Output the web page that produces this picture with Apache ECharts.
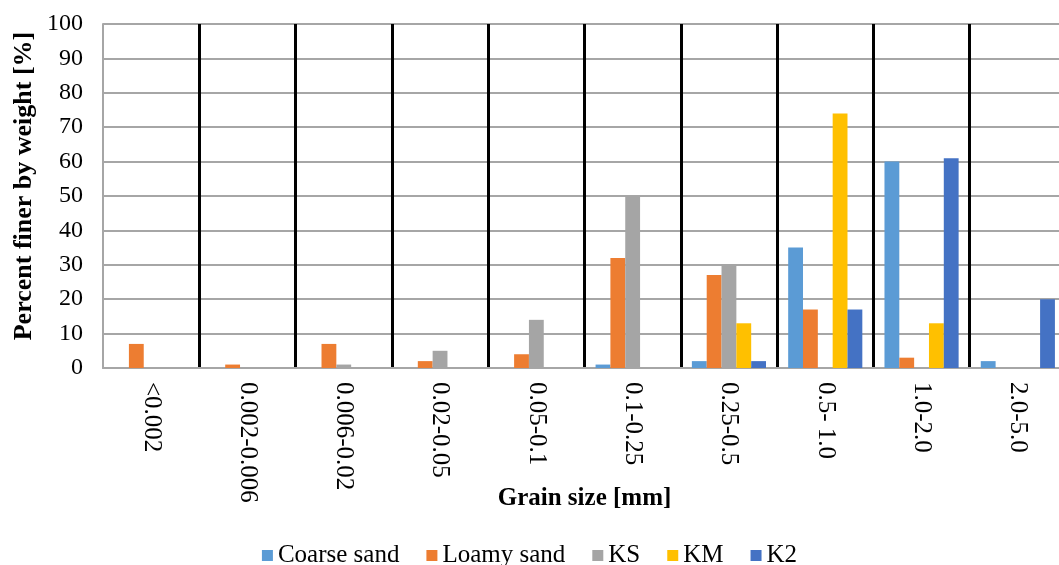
<!DOCTYPE html>
<html>
<head>
<meta charset="utf-8">
<script src="https://cdn.jsdelivr.net/npm/echarts@6/dist/echarts.min.js"></script>
<style>
html, body { margin: 0; padding: 0; background: #fff; }
#main { width: 1059px; height: 565px; }
</style>
</head>
<body>
<div id="main"></div>
<script>
var categories = ['<0.002', '0.002-0.006', '0.006-0.02', '0.02-0.05', '0.05-0.1',
    '0.1-0.25', '0.25-0.5', '0.5- 1.0', '1.0-2.0', '2.0-5.0'];
var coarseSand = [0, 0, 0, 0, 0, 1, 2, 35, 60, 2];
var loamySand = [7, 1, 7, 2, 4, 32, 27, 17, 3, 0];
var ks = [0, 0, 1, 5, 14, 50, 30, 0, 0, 0];
var km = [0, 0, 0, 0, 0, 0, 13, 74, 13, 0];
var k2 = [0, 0, 0, 0, 0, 0, 2, 17, 61, 20];

var myChart = echarts.init(document.getElementById('main'));
var font = 'Liberation Serif';

function bar(name, data, color) {
    return {
        name: name,
        type: 'bar',
        data: data,
        barGap: '0%',
        barCategoryGap: '23%',
        itemStyle: { color: color }
    };
}

var option = {
    animation: false,
    textStyle: { fontFamily: font },
    grid: { left: 103, top: 24, width: 963, bottom: 197, outerBoundsMode: 'none' },
    legend: {
        top: 538,
        left: 'center',
        icon: 'rect',
        itemWidth: 11,
        itemHeight: 11,
        itemGap: 27,
        textStyle: { fontFamily: font, fontSize: 25, color: '#000' }
    },
    xAxis: {
        type: 'category',
        data: categories,
        name: 'Grain size [mm]',
        nameLocation: 'middle',
        nameGap: 118,
        nameMoveOverlap: false,
        nameTextStyle: { fontFamily: font, fontSize: 25, fontWeight: 'bold', color: '#000' },
        axisLine: { lineStyle: { color: '#a6a6a6', width: 2 } },
        axisTick: { show: false },
        axisLabel: { rotate: -90, fontSize: 25, color: '#000', margin: 14, fontFamily: font },
        splitLine: {
            show: true,
            interval: function (index) { return index !== 0; },
            lineStyle: { color: '#000', width: 3 }
        }
    },
    yAxis: {
        type: 'value',
        min: 0,
        max: 100,
        interval: 10,
        name: 'Percent finer by weight [%]',
        nameLocation: 'middle',
        nameGap: 66,
        nameMoveOverlap: false,
        nameTextStyle: { fontFamily: font, fontSize: 26, fontWeight: 'bold', color: '#000', padding: [0, 0, 0, 20] },
        axisLine: { show: true, lineStyle: { color: '#a6a6a6', width: 2 } },
        axisTick: { show: false },
        axisLabel: { fontSize: 24, color: '#000', margin: 20, fontFamily: font },
        splitLine: { lineStyle: { color: '#a6a6a6', width: 2 } }
    },
    series: [
        bar('Coarse sand', coarseSand, '#5b9bd5'),
        bar('Loamy sand', loamySand, '#ed7d31'),
        bar('KS', ks, '#a5a5a5'),
        bar('KM', km, '#ffc000'),
        bar('K2', k2, '#4472c4')
    ]
};
option && myChart.setOption(option);
</script>
</body>
</html>
